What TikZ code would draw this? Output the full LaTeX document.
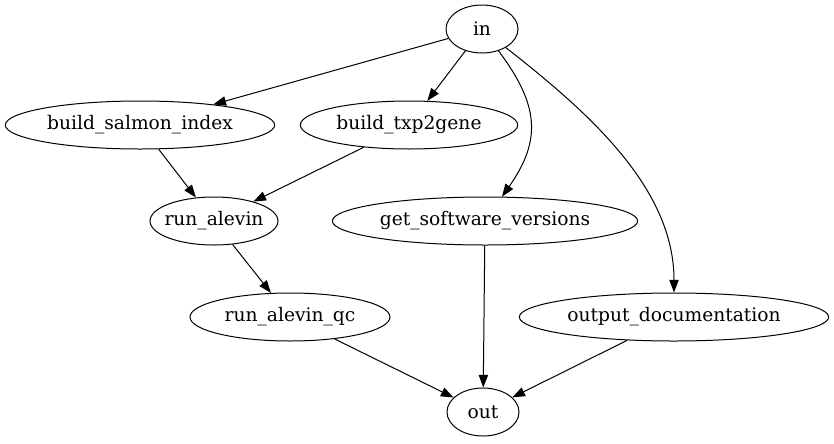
\documentclass[tikz,border=0pt]{standalone}
\usepackage{fontspec}
\setmainfont{DejaVu Serif}
\usetikzlibrary{arrows.meta, shapes.geometric}

\begin{document}
\begin{tikzpicture}[
  x=0.75pt, y=-0.75pt,
  font=\fontsize{14}{16}\selectfont,
  arrow/.style={-{Triangle[length=9.5pt, width=7pt]}, line width=0.75pt},
  proc/.style={
    draw,
    ellipse,
    line width=0.75pt,
    inner xsep=-4pt,
    inner ysep=0pt,
    minimum height=36pt
  }
]
\useasboundingbox (0,0) rectangle (834,443);

% =========================
% Nodes
% =========================
\node[proc, minimum width=54pt] (in) at (482,29) {in};

\node[proc, minimum width=202pt] (salmon) at (140,125) {build\_salmon\_index};
\node[proc, minimum width=163pt] (txp) at (409,125) {build\_txp2gene};

\node[proc, minimum width=96pt] (alevin) at (214,221) {run\_alevin};
\node[proc, minimum width=229pt] (versions) at (485,221) {get\_software\_versions};

\node[proc, minimum width=150pt] (qc) at (290,317) {run\_alevin\_qc};
\node[proc, minimum width=232pt] (docs) at (674,317) {output\_documentation};

\node[proc, minimum width=54pt] (out) at (483,412) {out};

% =========================
% Edges
% =========================
\draw[arrow] (in) -- (salmon);
\draw[arrow] (in) -- (txp);
\draw[arrow] (in) to[out=-53, in=55, looseness=1.2] (versions);
\draw[arrow] (in) to[out=-38, in=90, looseness=0.9] (docs);

\draw[arrow] (salmon) -- (alevin);
\draw[arrow] (txp) -- (alevin);
\draw[arrow] (alevin) -- (qc);

\draw[arrow] (qc) -- (out);
\draw[arrow] (versions) -- (out);
\draw[arrow] (docs) -- (out);

\end{tikzpicture}
\end{document}
